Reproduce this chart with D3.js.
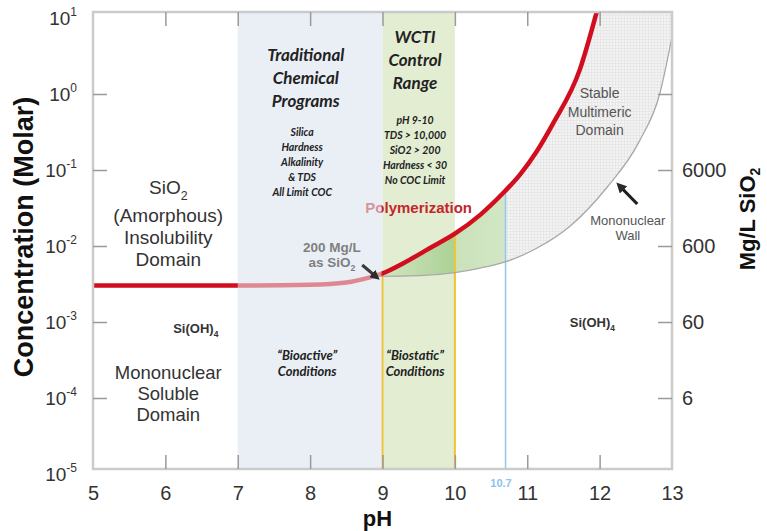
<!DOCTYPE html>
<html>
<head>
<meta charset="utf-8">
<script src="https://cdn.jsdelivr.net/npm/d3@7"></script>
<style>
  body { margin: 0; background: #fff; }
</style>
</head>
<body>
<svg id="chart" width="767" height="531"></svg>
<script>
// ---- data ----
const phTicks = [5, 6, 7, 8, 9, 10, 11, 12, 13];
const concExp = [1, 0, -1, -2, -3, -4, -5];
const mgTicks = [60000, 6000, 600, 60, 6];
const mgLabels = ["", "6000", "600", "60", "6"];

// red solubility / polymerization boundary
const polyPH   = [5, 7, 8, 8.5, 8.8, 9.0, 9.3, 9.65, 10.0, 10.35, 10.66, 10.9, 11.13, 11.35, 11.73, 11.96, 12.05];
const polyConc = [3.02e-3, 3.02e-3, 3.09e-3, 3.31e-3, 3.80e-3, 4.37e-3, 6.03e-3, 9.33e-3, 1.45e-2, 2.57e-2, 4.9e-2, 8.7e-2, 0.175, 0.398, 2.14, 12.0, 25];

// grey mononuclear wall
const wallPH   = [8.9, 9.5, 10.0, 10.35, 10.66, 11.13, 11.59, 12.1, 12.55, 12.83, 13.0];
const wallConc = [3.98e-3, 4.07e-3, 4.47e-3, 5.13e-3, 6.03e-3, 9.33e-3, 1.82e-2, 5.89e-2, 0.240, 1.0, 5.62];

const bands = [
  {from: 7, to: 9, fill: "#eaeff6"},
  {from: 9, to: 10, fill: "#e2edd2"}
];
const markers = [
  {ph: 9, color: "#f2c232", w: 2},
  {ph: 10, color: "#f2c232", w: 2},
  {ph: 10.7, color: "#93c6ef", w: 1.5}
];
const greenRange = [9, 10.7];

// ---- layout ----
const pL = 93, pR = 672, pT = 12, pB = 469;
const SANS = "'Liberation Sans', Arial, Helvetica, sans-serif";
const ITAL = "Lato, 'Open Sans', sans-serif";

const x = d3.scaleLinear().domain([5, 13]).range([pL, pR]);
const y = d3.scaleLog().domain([1e-5, 10]).range([474, 18]);

const svg = d3.select("#chart");
const defs = svg.append("defs");

defs.append("clipPath").attr("id", "plotClip")
    .append("rect")
    .attr("x", pL).attr("y", pT)
    .attr("width", pR - pL).attr("height", pB - pT);

let pat = defs.append("pattern").attr("id", "grid")
    .attr("width", 3).attr("height", 3)
    .attr("patternUnits", "userSpaceOnUse");
pat.append("rect").attr("width", 3).attr("height", 3).attr("fill", "#f3f3f3");
pat.append("path").attr("d", "M0,0.5H3M0.5,0V3")
    .attr("stroke", "#e2e2e2").attr("stroke-width", 0.6);

let grad = defs.append("linearGradient").attr("id", "greenGrad")
    .attr("gradientUnits", "userSpaceOnUse")
    .attr("x1", x(greenRange[0])).attr("x2", x(greenRange[1]))
    .attr("y1", 0).attr("y2", 0);
let cut = (10 - greenRange[0]) / (greenRange[1] - greenRange[0]);
grad.append("stop").attr("offset", 0).attr("stop-color", "#cfe4bd");
grad.append("stop").attr("offset", cut).attr("stop-color", "#a4ce8b");
grad.append("stop").attr("offset", cut + 0.005).attr("stop-color", "#c6e0b4");
grad.append("stop").attr("offset", 1).attr("stop-color", "#d0e6c0");

defs.append("marker").attr("id", "ah")
    .attr("viewBox", "0 0 10 10").attr("refX", 4).attr("refY", 5)
    .attr("markerWidth", 3.2).attr("markerHeight", 3.2)
    .attr("orient", "auto")
    .append("path").attr("d", "M0,0L10,5L0,10z").attr("fill", "#2a2a2a");

const polyPts = polyPH.map((p, i) => [x(p), y(polyConc[i])]);
const wallPts = wallPH.map((p, i) => [x(p), y(wallConc[i])]);

// region below / right of the red curve
let redClip = defs.append("clipPath").attr("id", "belowRed");
redClip.append("path")
    .attr("d", d3.area().x(d => d[0]).y0(pB).y1(d => d[1]).curve(d3.curveMonotoneX)(polyPts));
redClip.append("rect")
    .attr("x", x(polyPH[polyPH.length - 1]) - 1).attr("y", pT)
    .attr("width", pR - x(polyPH[polyPH.length - 1]) + 1).attr("height", pB - pT);

defs.append("clipPath").attr("id", "greenClip")
    .append("rect")
    .attr("x", x(greenRange[0])).attr("y", pT)
    .attr("width", x(greenRange[1]) - x(greenRange[0])).attr("height", pB - pT);

// ---- plot ----
svg.append("rect").attr("x", pL).attr("y", pT)
    .attr("width", pR - pL).attr("height", pB - pT)
    .attr("fill", "#ffffff");

let plot = svg.append("g").attr("clip-path", "url(#plotClip)");

plot.selectAll(".band").data(bands).join("rect")
    .attr("class", "band")
    .attr("x", d => x(d.from)).attr("y", pT)
    .attr("width", d => x(d.to) - x(d.from)).attr("height", pB - pT)
    .attr("fill", d => d.fill);

let under = plot.append("g").attr("clip-path", "url(#belowRed)");
let aboveWall = d3.area().x(d => d[0]).y0(d => d[1]).y1(pT).curve(d3.curveMonotoneX);

under.append("path").attr("d", aboveWall(wallPts)).attr("fill", "url(#grid)");
under.append("g").attr("clip-path", "url(#greenClip)")
    .append("path").attr("d", aboveWall(wallPts))
    .attr("fill", "url(#greenGrad)").attr("fill-opacity", 0.9);

under.selectAll(".marker").data(markers).join("line")
    .attr("class", "marker")
    .attr("x1", d => x(d.ph)).attr("x2", d => x(d.ph))
    .attr("y1", pT).attr("y2", pB)
    .attr("stroke", d => d.color).attr("stroke-width", d => d.w);

let line = d3.line().x(d => d[0]).y(d => d[1]).curve(d3.curveMonotoneX);

plot.append("path").attr("d", line(wallPts))
    .attr("fill", "none").attr("stroke", "#a8a8a8").attr("stroke-width", 1.3);

plot.append("path").attr("d", line(polyPts))
    .attr("fill", "none").attr("stroke", "#d10d1e").attr("stroke-width", 4.5);

// Polymerization label sits partly under the blue band
svg.append("text").attr("x", x(9.5)).attr("y", 213)
    .attr("text-anchor", "middle").attr("font-family", SANS)
    .attr("font-size", 15).attr("font-weight", "bold").attr("fill", "#c3262c")
    .text("Polymerization");

// lighten everything under the traditional band
svg.append("rect").attr("x", x(bands[0].from)).attr("y", pT)
    .attr("width", x(bands[0].to) - x(bands[0].from) - 1).attr("height", pB - pT)
    .attr("fill", bands[0].fill).attr("opacity", 0.55);

// ---- frame and axes ----
svg.append("rect").attr("x", pL).attr("y", pT)
    .attr("width", pR - pL).attr("height", pB - pT)
    .attr("fill", "none").attr("stroke", "#cbcbcb").attr("stroke-width", 2.5);

function styleAxis(g) {
  g.select(".domain").remove();
  g.selectAll(".tick line").attr("stroke", "#9a9a9a").attr("stroke-width", 1.5);
  g.selectAll(".tick text").attr("font-family", SANS).attr("fill", "#333");
}

let innerPH = phTicks.slice(1, -1);

svg.append("g").attr("transform", `translate(0,${pB})`)
    .call(d3.axisBottom(x).tickValues(innerPH).tickSizeInner(-14).tickSizeOuter(0).tickFormat(""))
    .call(styleAxis);
svg.append("g").attr("transform", `translate(0,${pB})`)
    .call(d3.axisBottom(x).tickValues(phTicks).tickSize(0).tickPadding(17).tickFormat(d3.format("d")))
    .call(styleAxis)
    .call(g => g.selectAll(".tick text").attr("font-size", 20));

svg.append("g").attr("transform", `translate(0,${pT})`)
    .call(d3.axisTop(x).tickValues(innerPH).tickSizeInner(-14).tickSizeOuter(0).tickFormat(""))
    .call(styleAxis);

let leftAxis = svg.append("g").attr("transform", `translate(${pL},0)`)
    .call(d3.axisLeft(y).tickValues(concExp.map(e => Math.pow(10, e)))
      .tickSizeInner(-14).tickSizeOuter(0).tickPadding(16).tickFormat(""))
    .call(styleAxis);
leftAxis.selectAll(".tick line").filter((d, i) => i == 0 || i == concExp.length - 1).remove();
leftAxis.selectAll(".tick text").each(function(d, i) {
  let t = d3.select(this).attr("font-size", 19);
  t.append("tspan").text("10");
  t.append("tspan").attr("font-size", 12).attr("dy", "-0.75em").text(concExp[i]);
});

svg.append("g").attr("transform", `translate(${pR},0)`)
    .call(d3.axisRight(y).tickValues(mgTicks.map(v => v / 60000))
      .tickSizeInner(-14).tickSizeOuter(0).tickPadding(10)
      .tickFormat((d, i) => mgLabels[i]))
    .call(styleAxis)
    .call(g => g.selectAll(".tick text").attr("font-size", 20));

// axis titles
svg.append("text").attr("transform", "translate(33,237) rotate(-90)")
    .attr("text-anchor", "middle").attr("font-family", SANS)
    .attr("font-size", 27).attr("font-weight", "bold").attr("fill", "#111")
    .text("Concentration (Molar)");

let rt = svg.append("text").attr("transform", "translate(755,219) rotate(-90)")
    .attr("text-anchor", "middle").attr("font-family", SANS)
    .attr("font-size", 22).attr("font-weight", "bold").attr("fill", "#111");
rt.append("tspan").text("Mg/L SiO");
rt.append("tspan").attr("font-size", 14).attr("dy", 5).text("2");

svg.append("text").attr("x", x(8.93)).attr("y", 526)
    .attr("text-anchor", "middle").attr("font-family", SANS)
    .attr("font-size", 22).attr("font-weight", "bold").attr("fill", "#111")
    .text("pH");

// ---- annotations ----
function block(cx, ys, rows, st) {
  rows.forEach((r, i) => {
    let t = svg.append("text").attr("x", cx).attr("y", ys[i])
        .attr("text-anchor", "middle")
        .attr("font-family", st.family || SANS)
        .attr("font-size", st.size)
        .attr("font-weight", st.weight || "normal")
        .attr("font-style", st.style || "normal")
        .attr("fill", st.fill || "#333");
    let parts = r.split("_");
    t.append("tspan").text(parts[0]);
    if (parts[1]) t.append("tspan").attr("font-size", st.size * 0.65).attr("dy", st.size * 0.3).text(parts[1]);
  });
}

block(x(6.04), [194, 222, 244, 266], ["SiO_2", "(Amorphous)", "Insolubility", "Domain"], {size: 19, fill: "#333"});
block(x(6.04), [379, 400, 421], ["Mononuclear", "Soluble", "Domain"], {size: 18.5, fill: "#333"});
block(x(6.42), [333], ["Si(OH)_4"], {size: 13, weight: "bold", fill: "#333"});
block(x(11.9), [327], ["Si(OH)_4"], {size: 13, weight: "bold", fill: "#333"});

let bi = {family: ITAL, weight: "bold", style: "italic", fill: "#222"};
block(x(7.94), [61, 84, 107], ["Traditional", "Chemical", "Programs"], {...bi, size: 17});
block(x(7.89), [135.5, 150.5, 165.5, 180.5, 195.5],
      ["Silica", "Hardness", "Alkalinity", "& TDS", "All Limit COC"], {...bi, size: 10.5});
block(x(9.45), [43, 66, 89], ["WCTI", "Control", "Range"], {...bi, size: 17});
block(x(9.45), [123.5, 138.5, 153.5, 168.5, 183.5],
      ["pH 9-10", "TDS > 10,000", "SiO2 > 200", "Hardness < 30", "No COC Limit"], {...bi, size: 10.5});
block(x(7.96), [360, 376], ["\u201cBioactive\u201d", "Conditions"], {...bi, size: 13});
block(x(9.45), [360, 376], ["\u201cBiostatic\u201d", "Conditions"], {...bi, size: 13});

block(x(8.3), [252, 267], ["200 Mg/L", "as SiO_2"], {size: 13.5, weight: "bold", fill: "#7f7f7f"});
block(x(12.0), [98, 117, 135], ["Stable", "Multimeric", "Domain"], {size: 14, fill: "#555"});
block(x(12.39), [225, 240], ["Mononuclear", "Wall"], {size: 13, fill: "#555"});
block(x(10.7) - 4.5, [487], ["10.7"], {size: 11, weight: "bold", fill: "#8dc3f0"});

// arrows
svg.append("line")
    .attr("x1", x(8.72)).attr("y1", 265).attr("x2", x(8.9)).attr("y2", 276)
    .attr("stroke", "#3a3a3a").attr("stroke-width", 3).attr("marker-end", "url(#ah)");
svg.append("line")
    .attr("x1", x(12.52)).attr("y1", 204).attr("x2", x(12.29)).attr("y2", 187)
    .attr("stroke", "#1e1e1e").attr("stroke-width", 3.2).attr("marker-end", "url(#ah)");
</script>
</body>
</html>
